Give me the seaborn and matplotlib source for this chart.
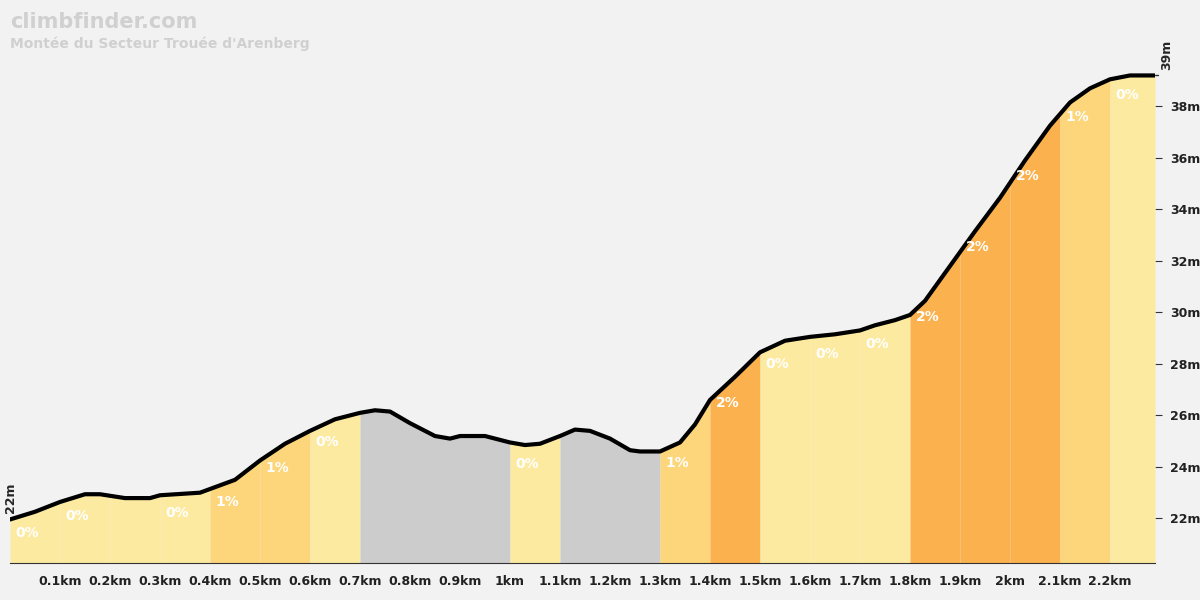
import numpy as np
import matplotlib.pyplot as plt
import seaborn as sns

# elevation profile
dist_km = [0.00, 0.05, 0.10, 0.15, 0.18, 0.23, 0.28, 0.30, 0.38, 0.45, 0.50, 0.55, 0.60, 0.65,
           0.70, 0.73, 0.76, 0.80, 0.85, 0.88, 0.90, 0.95, 1.00, 1.03, 1.06, 1.10, 1.13, 1.16,
           1.20, 1.24, 1.26, 1.30, 1.34, 1.37, 1.40, 1.45, 1.50, 1.55, 1.60, 1.65, 1.70, 1.73,
           1.77, 1.80, 1.83, 1.88, 1.93, 1.98, 2.03, 2.08, 2.12, 2.16, 2.20, 2.24, 2.29]
elev_m = [21.96, 22.26, 22.64, 22.94, 22.94, 22.79, 22.79, 22.9, 23.0, 23.5, 24.25, 24.9, 25.4, 25.85,
          26.1, 26.2, 26.15, 25.7, 25.2, 25.1, 25.2, 25.2, 24.95, 24.85, 24.9, 25.2, 25.45, 25.4,
          25.1, 24.65, 24.6, 24.6, 24.95, 25.65, 26.6, 27.5, 28.45, 28.9, 29.05, 29.15, 29.3, 29.5,
          29.7, 29.9, 30.45, 31.8, 33.15, 34.45, 35.9, 37.25, 38.15, 38.7, 39.05, 39.2, 39.2]

# gradient segments: start, end, colour, label
seg_start = [0.0, 0.1, 0.2, 0.3, 0.4, 0.5, 0.6, 0.7, 1.0, 1.1, 1.3, 1.4, 1.5, 1.6, 1.7, 1.8, 1.9, 2.0, 2.1, 2.2]
seg_end = [0.1, 0.2, 0.3, 0.4, 0.5, 0.6, 0.7, 1.0, 1.1, 1.3, 1.4, 1.5, 1.6, 1.7, 1.8, 1.9, 2.0, 2.1, 2.2, 2.29]
seg_color = ['#fdeaa1', '#fdeaa1', '#fdeaa1', '#fdeaa1', '#fdd57a', '#fdd57a', '#fdeaa1', '#cccccc',
             '#fdeaa1', '#cccccc', '#fdd57a', '#fbb14e', '#fdeaa1', '#fdeaa1', '#fdeaa1', '#fbb14e',
             '#fbb14e', '#fbb14e', '#fdd57a', '#fdeaa1']
seg_label = ['0%', '0%', '', '0%', '1%', '1%', '0%', '', '0%', '', '1%', '2%', '0%', '0%', '0%',
             '2%', '2%', '2%', '1%', '0%']

x_ticks = [0.1, 0.2, 0.3, 0.4, 0.5, 0.6, 0.7, 0.8, 0.9, 1.0, 1.1, 1.2, 1.3, 1.4, 1.5, 1.6, 1.7,
           1.8, 1.9, 2.0, 2.1, 2.2]
x_labels = ['0.1km', '0.2km', '0.3km', '0.4km', '0.5km', '0.6km', '0.7km', '0.8km', '0.9km', '1km',
            '1.1km', '1.2km', '1.3km', '1.4km', '1.5km', '1.6km', '1.7km', '1.8km', '1.9km', '2km',
            '2.1km', '2.2km']
y_ticks = [22, 24, 26, 28, 30, 32, 34, 36, 38]

sns.set_style('white')
plt.rcParams['font.family'] = 'DejaVu Sans'
fig = plt.figure(figsize=(12, 6), dpi=100, facecolor='#f2f2f2')
ax = fig.add_axes([10 / 1200, 37 / 600, 1145 / 1200, 503 / 600])
ax.set_facecolor('#f2f2f2')
ymin = 20.27
x = np.array(dist_km)
y = np.array(elev_m)

for s, e, c, lab in zip(seg_start, seg_end, seg_color, seg_label):
    xs = np.linspace(s, e, 30)
    ys = np.interp(xs, x, y)
    ax.fill_between(xs, ymin, ys, color=c, lw=0)
    if lab:
        lx = s + 0.035
        ax.text(lx, np.interp(lx, x, y) - 0.75, lab, color='white', fontsize=10,
                fontweight='bold', ha='center', va='center')

sns.lineplot(x=dist_km, y=elev_m, ax=ax, color='black', lw=3)
ax.set_xlim(0, 2.29)
ax.set_ylim(ymin, 39.8)
for sp in ['top', 'left', 'right']:
    ax.spines[sp].set_visible(False)
ax.spines['bottom'].set_color('#333333')
ax.set_xticks(x_ticks)
ax.set_xticklabels(x_labels, fontsize=9, fontweight='bold', color='#222222')
ax.tick_params(axis='x', length=5, color='#333333')
ax.yaxis.tick_right()
ax.set_yticks(y_ticks)
ax.set_yticklabels([f'{v}m' for v in y_ticks], fontsize=9, fontweight='bold', color='#222222')
ax.tick_params(axis='y', length=5, pad=6, color='#333333')
ax.set_xlabel('')
ax.set_ylabel('')
ax.plot([2.29, 2.295], [39.2, 39.2], color='#333333', lw=1, clip_on=False)
ax.text(2.29 + 0.01, 39.4, '39m', rotation=90, fontsize=9, fontweight='bold', ha='left', va='bottom')
ax.text(-0.012, 22.2, '22m', rotation=90, fontsize=9, fontweight='bold', ha='left', va='bottom')

fig.text(10 / 1200, 1 - 22 / 600, 'climbfinder.com', fontsize=15, fontweight='bold', color='#d0d0d0', va='center')
fig.text(10 / 1200, 1 - 44 / 600, "Montée du Secteur Trouée d'Arenberg", fontsize=10, fontweight='bold',
         color='#d0d0d0', va='center')
fig.savefig('out.png', dpi=100, facecolor='#f2f2f2')
